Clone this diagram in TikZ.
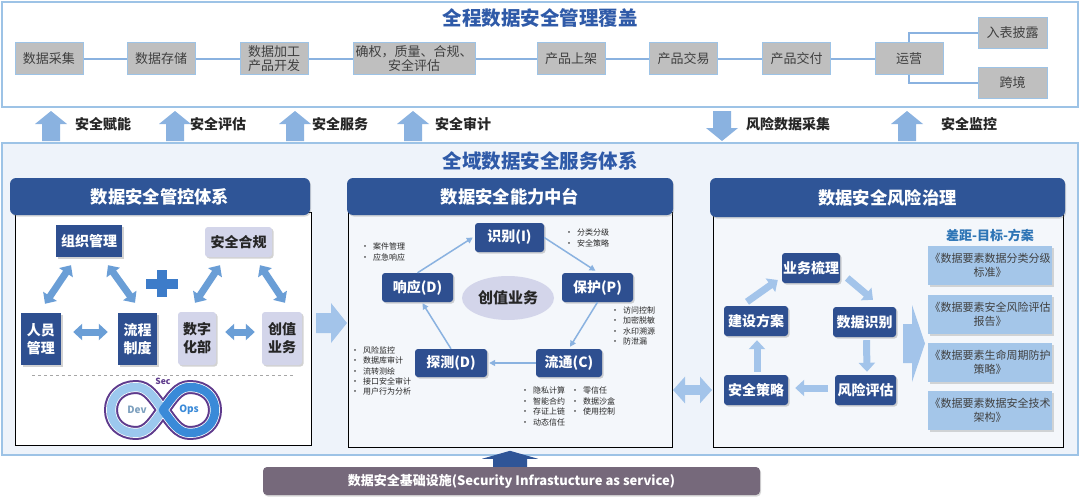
\documentclass[tikz,border=0pt]{standalone}
\usepackage{fontspec}
\setmainfont{Noto Sans CJK SC}
\usetikzlibrary{arrows.meta,shapes.geometric,shadows,calc}
\definecolor{dblue}{HTML}{2E4F90}
\definecolor{hdr}{HTML}{2F5597}
\definecolor{ttl}{HTML}{2F5AA8}
\definecolor{lblue}{HTML}{8AB2E0}
\definecolor{arrlight}{HTML}{A3C4EA}
\definecolor{arrmid}{HTML}{6A9ED6}
\definecolor{boxgray}{HTML}{BFBFBF}
\definecolor{lav}{HTML}{D3D5EA}
\definecolor{secbg}{HTML}{EEF3FA}
\definecolor{panbg}{HTML}{F4F7FB}
\definecolor{secline}{HTML}{9DC3E6}
\definecolor{docblue}{HTML}{A4C6E9}
\definecolor{basebar}{HTML}{76697B}
\definecolor{txtgray}{HTML}{404040}
\definecolor{txtdark}{HTML}{262626}
\definecolor{plusblue}{HTML}{3D7CC9}
\definecolor{secpurple}{HTML}{5E3A8C}
\definecolor{devblue}{HTML}{9CC8EE}
\definecolor{opsblue}{HTML}{3A8AD8}
\definecolor{subttl}{HTML}{2E75B6}
\tikzset{
  gbox/.style={draw=secline, line width=1pt, fill=boxgray, minimum height=32, minimum width=68, inner sep=1pt, align=center, font=\fontsize{13}{14}\selectfont, text=txtgray},
  conn/.style={draw=lblue, line width=2pt},
  hdrbox/.style={fill=hdr, rounded corners=6pt, text=white, inner sep=0pt, font=\bfseries\fontsize{17.3}{17.3}\selectfont, drop shadow={opacity=0.3, shadow xshift=1pt, shadow yshift=-1.5pt}},
  dnode/.style={fill=dblue, text=white, inner sep=1pt, align=center, font=\bfseries\fontsize{14}{18}\selectfont, drop shadow={opacity=0.35, shadow xshift=1.5pt, shadow yshift=-1.5pt}},
  rnode/.style={dnode, rounded corners=3pt},
  lnode/.style={fill=lav, text=txtdark, inner sep=1pt, align=center, rounded corners=3pt, font=\bfseries\fontsize{14}{18}\selectfont, drop shadow={opacity=0.35, shadow xshift=1.5pt, shadow yshift=-1.5pt}},
  dbl/.style={line width=7pt, draw=arrmid, {Triangle[width=16pt,length=9pt]}-{Triangle[width=16pt,length=9pt]}},
  sgl/.style={line width=7pt, draw=arrlight, -{Triangle[width=16pt,length=9pt]}},
  thinarr/.style={draw=lblue, line width=1.5pt, -{Triangle[width=6pt,length=6pt]}},
  bul/.style={anchor=west, align=left, inner sep=0pt, font=\fontsize{8}{10.4}\selectfont, text=txtdark},
  rowlbl/.style={font=\bfseries\fontsize{14}{14}\selectfont, text=txtdark},
  doc/.style={fill=docblue, text=txtgray, align=center, minimum width=124, minimum height=39, inner sep=1pt, font=\fontsize{11}{14}\selectfont, drop shadow={opacity=0.3, shadow xshift=2pt, shadow yshift=-2pt}},
  loopline/.style={line join=round, line cap=round},
}
\newcommand\BlkUp[3]{\fill[lblue] (#1,#2) -- ({#1+16},{#2+13}) -- ({#1+9},{#2+13}) -- ({#1+9},#3) -- ({#1-9},#3) -- ({#1-9},{#2+13}) -- ({#1-16},{#2+13}) -- cycle;}
\newcommand\BlkDown[3]{\fill[lblue] (#1,#3) -- ({#1+16},{#3-13}) -- ({#1+9},{#3-13}) -- ({#1+9},#2) -- ({#1-9},#2) -- ({#1-9},{#3-13}) -- ({#1-16},{#3-13}) -- cycle;}
\newcommand\RightLobe{(163,410) .. controls (172,398) and (178,387) .. (190,387) .. controls (205,387) and (215,397) .. (215,410) .. controls (215,423) and (205,433) .. (190,433) .. controls (178,433) and (172,422) .. (163,410)}
\newcommand\LeftLobe{(163,410) .. controls (154,398) and (148,387) .. (136,387) .. controls (121,387) and (111,397) .. (111,410) .. controls (111,423) and (121,433) .. (136,433) .. controls (148,433) and (154,422) .. (163,410)}
\begin{document}
\begin{tikzpicture}[x=1pt,y=-1pt]
\path[use as bounding box, fill=white] (0,0) rectangle (1080,498);

% ---------- top band ----------
\draw[draw=secline, line width=1.5pt, fill=white] (2,2) rectangle (1078,107);
\node[font=\bfseries\fontsize{19.5}{19.5}\selectfont, text=ttl] (t1) at (540,18) {全程数据安全管理覆盖};
\node[gbox] (s1) at (49,58.5) {数据采集};
\node[gbox] (s2) at (161,58.5) {数据存储};
\node[gbox, font=\fontsize{13}{14}\selectfont] (s3) at (274,58.5) {数据加工\\产品开发};
\node[gbox, minimum width=122, font=\fontsize{13}{14}\selectfont] (s4) at (414,58.5) {确权，质量、合规、\\安全评估};
\node[gbox] (s5) at (571,58.5) {产品上架};
\node[gbox] (s6) at (683.5,58.5) {产品交易};
\node[gbox] (s7) at (796.5,58.5) {产品交付};
\node[gbox] (s8) at (909,58.5) {运营};
\node[gbox, minimum width=69, minimum height=31] (s9) at (1012.5,32.5) {入表披露};
\node[gbox, minimum width=69, minimum height=31] (s10) at (1012.5,82.5) {跨境};
\draw[conn] (s1) -- (s2);
\draw[conn] (s2) -- (s3);
\draw[conn] (s3) -- (s4);
\draw[conn] (s4) -- (s5);
\draw[conn] (s5) -- (s6);
\draw[conn] (s6) -- (s7);
\draw[conn] (s7) -- (s8);
\draw[conn] (s8.north) |- (s9.west);
\draw[conn] (s8.south) |- (s10.west);

% ---------- arrows row ----------
\BlkUp{51}{111}{141}
\BlkUp{175}{111}{141}
\BlkUp{295}{111}{141}
\BlkUp{413}{111}{141}
\BlkDown{722}{111}{141}
\BlkUp{907}{111}{141}
\node[rowlbl] (a1) at (103,124) {安全赋能};
\node[rowlbl] (a2) at (218,124) {安全评估};
\node[rowlbl] (a3) at (340,124) {安全服务};
\node[rowlbl] (a4) at (463,124) {安全审计};
\node[rowlbl] (a5) at (788,124) {风险数据采集};
\node[rowlbl] (a6) at (969,124) {安全监控};

% ---------- middle section ----------
\draw[draw=secline, line width=1.5pt, fill=secbg] (2,143) rectangle (1078,455);
\node[font=\bfseries\fontsize{19.5}{19.5}\selectfont, text=ttl] (t2) at (540,161) {全域数据安全服务体系};

% panel bodies
\draw[line width=1pt, fill=white] (15,212) rectangle (311,445);
\draw[line width=1pt, fill=panbg] (348,212) rectangle (672,447);
\draw[line width=1pt, fill=panbg] (713,213) rectangle (1063,447);
\node[hdrbox, minimum width=300, minimum height=37] (h1) at (160,196.5) {数据安全管控体系};
\node[hdrbox, minimum width=326, minimum height=37] (h2) at (510,196.5) {数据安全能力中台};
\node[hdrbox, minimum width=355, minimum height=39] (h3) at (887.5,197.5) {数据安全风险治理};

% ---- left panel ----
\node[dnode, minimum width=66, minimum height=32] (zz) at (89,241) {组织管理};
\node[lnode, minimum width=67, minimum height=30] (hg) at (238.5,242) {安全合规};
\node[dnode, minimum width=40, minimum height=52] (ry) at (41,339) {人员\\管理};
\node[dnode, minimum width=39, minimum height=52] (lc) at (137.5,339) {流程\\制度};
\node[lnode, minimum width=38, minimum height=53] (sz) at (197,338.5) {数字\\化部};
\node[lnode, minimum width=40, minimum height=53] (cz) at (282,338.5) {创值\\业务};
\fill[plusblue] (146,278.5) rectangle (178,288.5);
\fill[plusblue] (157,270) rectangle (167,297);
\draw[dbl] ([shift={(-18,8)}]zz.south) -- ([shift={(4,-9)}]ry.north);
\draw[dbl] ([shift={(19,8)}]zz.south) -- ([shift={(-2.5,-10)}]lc.north);
\draw[dbl] ([shift={(-18.5,8)}]hg.south) -- ([shift={(-2,-9)}]sz.north);
\draw[dbl] ([shift={(21.5,8)}]hg.south) -- ([shift={(3,-9)}]cz.north);
\draw[dbl] ([shift={(12,-7)}]ry.east) -- ([shift={(-10,-7)}]lc.west);
\draw[dbl] ([shift={(9,-6.5)}]sz.east) -- ([shift={(-7,-6.5)}]cz.west);
\draw[dashed, draw=gray!70, line width=0.8pt] (32,375) -- (295,375);
% DevSecOps loop
\draw[loopline, line width=14pt, draw=secpurple] \RightLobe;
\draw[loopline, line width=14pt, draw=secpurple] \LeftLobe;
\draw[loopline, line width=10pt, draw=white] \RightLobe;
\draw[loopline, line width=10pt, draw=white] \LeftLobe;
\draw[loopline, line width=8.5pt, draw=devblue] \LeftLobe;
\draw[loopline, line width=8.5pt, draw=opsblue] \RightLobe;
\node[font=\bfseries\fontsize{10}{10}\selectfont, text=devblue!80!black] (dev) at (137,410) {Dev};
\node[font=\bfseries\fontsize{10}{10}\selectfont, text=opsblue] (ops) at (189,410) {Ops};
\node[font=\bfseries\fontsize{8.5}{8.5}\selectfont, text=secpurple] (sec) at (163,381) {Sec};

% left -> middle arrow
\fill[arrlight] (316,313) -- (331,313) -- (331,303) -- (347,323) -- (331,343) -- (331,333) -- (316,333) -- cycle;

% ---- middle panel ----
\node[ellipse, fill=lav, minimum width=92, minimum height=44, inner sep=0pt, font=\bfseries\fontsize{15}{15}\selectfont, text=txtdark] (cz2) at (508,298) {创值业务};
\node[rnode, minimum width=69, minimum height=29] (sb) at (509.5,237.5) {识别(I)};
\node[rnode, minimum width=71, minimum height=29] (bh) at (597.5,287.5) {保护(P)};
\node[rnode, minimum width=66, minimum height=28] (lt) at (569,363) {流通(C)};
\node[rnode, minimum width=72, minimum height=28] (tc) at (451,363) {探测(D)};
\node[rnode, minimum width=71, minimum height=29] (xy) at (417.5,287.5) {响应(D)};
\draw[thinarr] (xy.north) -- ([shift={(-2,0)}]sb.west);
\draw[thinarr] (sb.east) -- ([shift={(-2,-2)}]bh.north);
\draw[thinarr] (bh.south) -- ([shift={(1,-2)}]lt.north);
\draw[thinarr] (lt.west) -- ([shift={(2,0)}]tc.east);
\draw[thinarr] (tc.north) -- ([shift={(5,1)}]xy.south);
\node[bul] (l1) at (565,238) {•\hspace{4pt}分类分级\\•\hspace{4pt}安全策略};
\node[bul] (l2) at (361,252) {•\hspace{4pt}案件管理\\•\hspace{4pt}应急响应};
\node[bul] (l3) at (611,326) {•\hspace{4pt}访问控制\\•\hspace{4pt}加密脱敏\\•\hspace{4pt}水印溯源\\•\hspace{4pt}防泄漏};
\node[bul] (l4) at (351,371) {•\hspace{4pt}风险监控\\•\hspace{4pt}数据库审计\\•\hspace{4pt}流转测绘\\•\hspace{4pt}接口安全审计\\•\hspace{4pt}用户行为分析};
\node[bul] (l5) at (521,406.5) {•\hspace{4pt}隐私计算\\•\hspace{4pt}智能合约\\•\hspace{4pt}存证上链\\•\hspace{4pt}动态信任};
\node[bul] (l6) at (571,401) {•\hspace{4pt}零信任\\•\hspace{4pt}数据沙盒\\•\hspace{4pt}使用控制};

% middle <-> right
\draw[line width=10pt, draw=arrlight, {Triangle[width=26pt,length=12pt]}-{Triangle[width=26pt,length=12pt]}] (673,390) -- (712,390);

% ---- right panel ----
\node[font=\bfseries\fontsize{13}{13}\selectfont, text=subttl] (gap) at (990,235) {差距-目标-方案};
\node[rnode, minimum width=58, minimum height=30] (yw) at (811,268) {业务梳理};
\node[rnode, minimum width=63, minimum height=30] (sj) at (864.5,322) {数据识别};
\node[rnode, minimum width=61, minimum height=30] (fx) at (865.5,390) {风险评估};
\node[rnode, minimum width=64, minimum height=30] (aq) at (756,390) {安全策略};
\node[rnode, minimum width=64, minimum height=30] (js) at (756,321) {建设方案};
\draw[sgl] ([shift={(-9,-4)}]js.north) -- ([shift={(-4,12)}]yw.west);
\draw[sgl] ([shift={(7,10)}]yw.east) -- ([shift={(8.5,-7)}]sj.north);
\draw[sgl] ([shift={(2,3)}]sj.south) -- ([shift={(1.5,-3)}]fx.north);
\draw[sgl] ([shift={(-7,-2)}]fx.west) -- ([shift={(7,-2)}]aq.east);
\draw[sgl] ([shift={(1,-3)}]aq.north) -- ([shift={(1,4)}]js.south);
\fill[arrlight] (903,324) -- (912,324) -- (912,305) -- (925,343.5) -- (912,382) -- (912,363) -- (903,363) -- cycle;
\node[doc] (d1) at (990,265.5) {《数据要素数据分类分级\\标准》};
\node[doc] (d2) at (990,314.5) {《数据要素安全风险评估\\报告》};
\node[doc] (d3) at (990,362.5) {《数据要素生命周期防护\\策略》};
\node[doc] (d4) at (990,410.5) {《数据要素数据安全技术\\架构》};

% ---------- base bar ----------
\node[fill=basebar, rounded corners=4pt, minimum width=497, minimum height=28, inner sep=0pt, text=white, font=\bfseries\fontsize{13}{13}\selectfont, drop shadow={opacity=0.3, shadow xshift=1pt, shadow yshift=-1.5pt}] (base) at (511.5,481) {数据安全基础设施(Security Infrastucture as service)};
\fill[hdr] ($(base.north)+(-1.5,-16)$) -- ($(base.north)+(26.5,-8)$) -- ($(base.north)+(15.5,-8)$) -- ($(base.north)+(15.5,0)$) -- ($(base.north)+(-18.5,0)$) -- ($(base.north)+(-18.5,-8)$) -- ($(base.north)+(-29.5,-8)$) -- cycle;
\end{tikzpicture}
\end{document}
